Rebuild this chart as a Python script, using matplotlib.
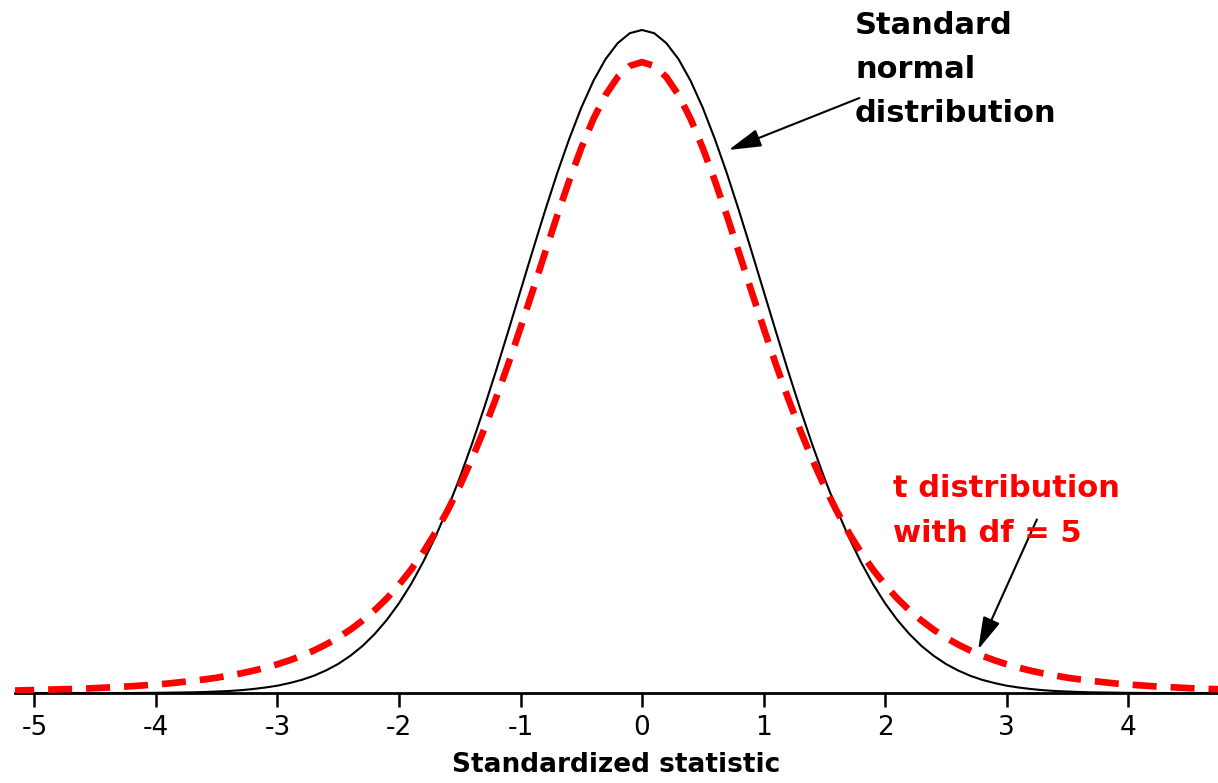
import matplotlib
matplotlib.use("Agg")
import matplotlib.pyplot as plt

# Values (density heights)
x_vals = [-5.2, -5.0, -4.8, -4.6, -4.4, -4.2,
          -4.0, -3.9, -3.8, -3.7, -3.6, -3.5, -3.4, -3.3, -3.2, -3.1,
          -3.0, -2.9, -2.8, -2.7, -2.6, -2.5, -2.4, -2.3, -2.2, -2.1,
          -2.0, -1.9, -1.8, -1.7, -1.6, -1.5, -1.4, -1.3, -1.2, -1.1,
          -1.0, -0.9, -0.8, -0.7, -0.6, -0.5, -0.4, -0.3, -0.2, -0.1,
          0.0, 0.1, 0.2, 0.3, 0.4, 0.5, 0.6, 0.7, 0.8, 0.9,
          1.0, 1.1, 1.2, 1.3, 1.4, 1.5, 1.6, 1.7, 1.8, 1.9,
          2.0, 2.1, 2.2, 2.3, 2.4, 2.5, 2.6, 2.7, 2.8, 2.9,
          3.0, 3.1, 3.2, 3.3, 3.4, 3.5, 3.6, 3.7, 3.8, 3.9,
          4.0, 4.2, 4.4, 4.6, 4.8, 5.0]
normal_vals = [0.0, 0.0, 0.0, 0.0, 0.0, 0.0,
               0.0001, 0.0002, 0.0003, 0.0004, 0.0006, 0.0009, 0.0012, 0.0017, 0.0024, 0.0033,
               0.0044, 0.0060, 0.0079, 0.0104, 0.0136, 0.0175, 0.0224, 0.0283, 0.0355, 0.0440,
               0.0540, 0.0656, 0.0790, 0.0940, 0.1109, 0.1295, 0.1497, 0.1714, 0.1942, 0.2179,
               0.2420, 0.2661, 0.2897, 0.3123, 0.3332, 0.3521, 0.3683, 0.3814, 0.3910, 0.3970,
               0.3989, 0.3970, 0.3910, 0.3814, 0.3683, 0.3521, 0.3332, 0.3123, 0.2897, 0.2661,
               0.2420, 0.2179, 0.1942, 0.1714, 0.1497, 0.1295, 0.1109, 0.0940, 0.0790, 0.0656,
               0.0540, 0.0440, 0.0355, 0.0283, 0.0224, 0.0175, 0.0136, 0.0104, 0.0079, 0.0060,
               0.0044, 0.0033, 0.0024, 0.0017, 0.0012, 0.0009, 0.0006, 0.0004, 0.0003, 0.0002,
               0.0001, 0.0, 0.0, 0.0, 0.0, 0.0]
t_vals = [0.0014, 0.0018, 0.0022, 0.0026, 0.0033, 0.0041,
          0.0051, 0.0057, 0.0065, 0.0073, 0.0082, 0.0092, 0.0105, 0.0118, 0.0134, 0.0152,
          0.0173, 0.0197, 0.0224, 0.0256, 0.0292, 0.0333, 0.0381, 0.0436, 0.0498, 0.0569,
          0.0651, 0.0743, 0.0848, 0.0966, 0.1098, 0.1245, 0.1407, 0.1585, 0.1777, 0.1981,
          0.2197, 0.2419, 0.2645, 0.2868, 0.3081, 0.3279, 0.3454, 0.3598, 0.3706, 0.3773,
          0.3796, 0.3773, 0.3706, 0.3598, 0.3454, 0.3279, 0.3081, 0.2868, 0.2645, 0.2419,
          0.2197, 0.1981, 0.1777, 0.1585, 0.1407, 0.1245, 0.1098, 0.0966, 0.0848, 0.0743,
          0.0651, 0.0569, 0.0498, 0.0436, 0.0381, 0.0333, 0.0292, 0.0256, 0.0224, 0.0197,
          0.0173, 0.0152, 0.0134, 0.0118, 0.0105, 0.0092, 0.0082, 0.0073, 0.0065, 0.0057,
          0.0051, 0.0041, 0.0033, 0.0026, 0.0022, 0.0018]
tick_vals = [-5, -4, -3, -2, -1, 0, 1, 2, 3, 4]

fig = plt.figure(figsize=(12.18, 7.83), dpi=100)
ax = fig.add_axes([15/1218, 90/783, 1 - 15/1218, 693/783])

ax.plot(x_vals, normal_vals, color="black", lw=1.5, zorder=2)
ax.plot(x_vals, t_vals, color="#ff0000", lw=4.8, dashes=(3.6, 2.1), zorder=3)

ax.set_xlim(-5.16, 4.74)
ax.set_ylim(0, 0.3989 * 693 / 663)

for s in ["top", "left", "right"]:
    ax.spines[s].set_visible(False)
ax.spines["bottom"].set_linewidth(2)
ax.set_yticks([])
ax.set_xticks(tick_vals)
ax.set_xticklabels([str(v) for v in tick_vals], fontsize=19)
ax.tick_params(axis="x", length=10, width=1.8, pad=6)
ax.set_xlabel("Standardized statistic", fontsize=19, fontweight="bold", labelpad=8)

fig.text(855/1218, 1 - 11/783, "Standard\nnormal\ndistribution", fontsize=22, fontweight="bold",
         color="black", ha="left", va="top", linespacing=1.65)
fig.text(893/1218, 1 - 474/783, "t distribution\nwith df = 5", fontsize=22, fontweight="bold",
         color="#ff0000", ha="left", va="top", linespacing=1.7)

ax.annotate("", xy=(726/1218, 1 - 151/783), xycoords="figure fraction",
            xytext=(862/1218, 1 - 97/783), textcoords="figure fraction",
            arrowprops=dict(arrowstyle="-|>,head_length=2.0,head_width=0.55", color="black", lw=1.5))
ax.annotate("", xy=(977/1218, 1 - 652/783), xycoords="figure fraction",
            xytext=(1038/1218, 1 - 517/783), textcoords="figure fraction",
            arrowprops=dict(arrowstyle="-|>,head_length=2.0,head_width=0.55", color="black", lw=1.5))

fig.savefig("out.png", dpi=100)
